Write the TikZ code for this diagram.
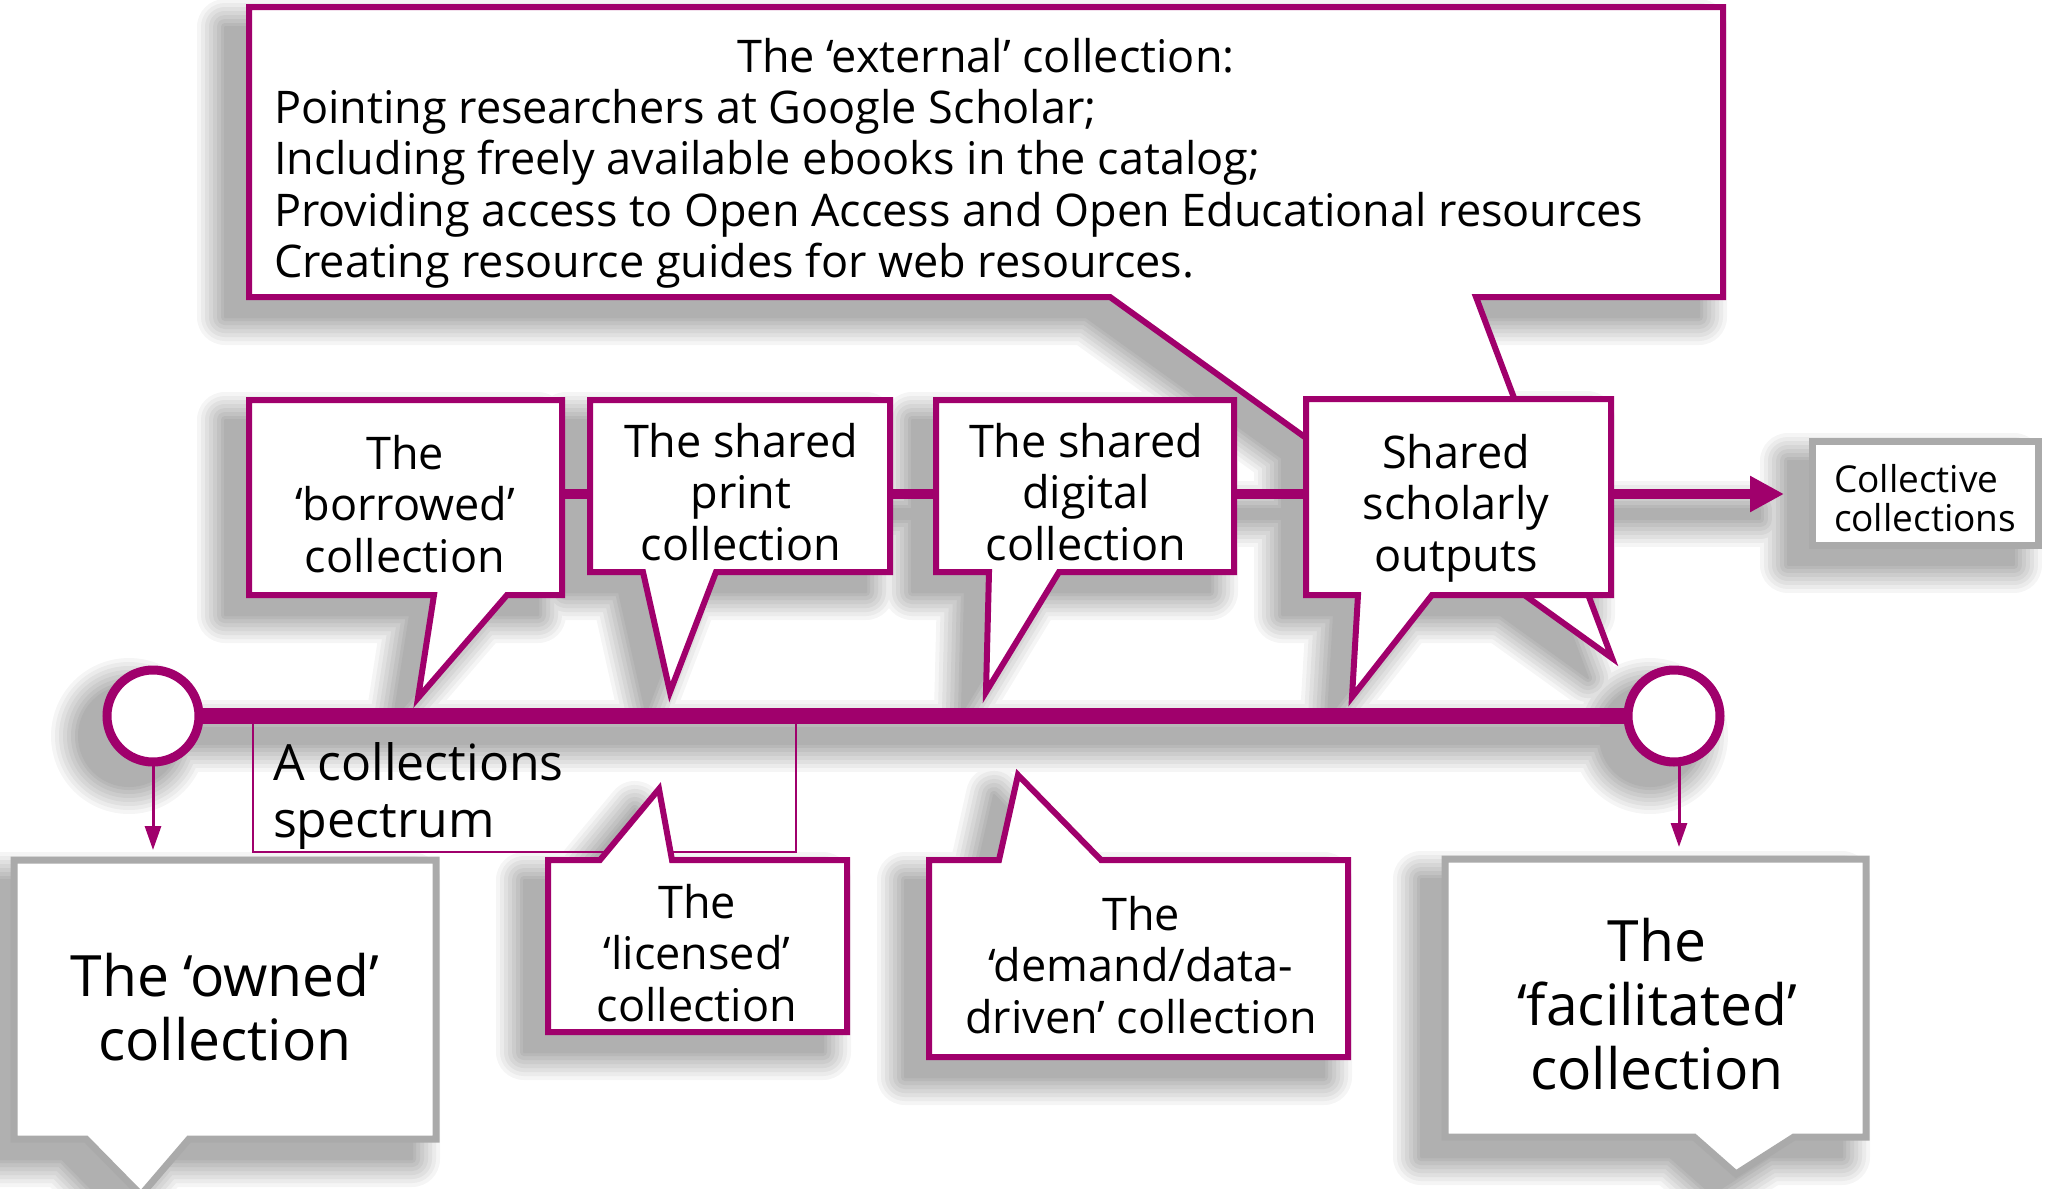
\documentclass[tikz,border=0pt]{standalone}
\usepackage{fontspec}
\setmainfont{Open Sans}
\usetikzlibrary{arrows.meta,fit}
\definecolor{mag}{RGB}{160,0,108}
\definecolor{bgray}{RGB}{170,170,170}
\pgfdeclarelayer{shadow}
\pgfdeclarelayer{back}
\pgfdeclarelayer{lines}
\pgfdeclarelayer{boxes}
\pgfsetlayers{shadow,back,lines,boxes,main}

\newcommand\myshadowshapes[1]{%
 \path[#1] (249,7) -- (1723,7) -- (1723,297) -- (1476,297) -- (1612,658) -- (1110,297) -- (249,297) -- cycle;
 \path[#1] (249,400) -- (562,400) -- (562,595) -- (507,595) -- (418,698) -- (434,595) -- (249,595) -- cycle;
 \path[#1] (590,400) -- (890,400) -- (890,572) -- (716,572) -- (670,692) -- (643,572) -- (590,572) -- cycle;
 \path[#1] (936,400) -- (1234,400) -- (1234,572) -- (1059,572) -- (986,692) -- (989,572) -- (936,572) -- cycle;
 \path[#1] (1306,399) -- (1611,399) -- (1611,595) -- (1432,595) -- (1352,697) -- (1358,595) -- (1306,595) -- cycle;
 \path[#1] (1812,441) rectangle (2038,545);
 \path[#1] (562,489) rectangle (1784,499);
 \path[#1] (153,708) rectangle (1674,724);
 \path[#1] (153,716) circle[radius=50];
 \path[#1] (1674,716) circle[radius=50];
 \path[#1] (14,860) -- (436,860) -- (436,1139) -- (189,1139) -- (141,1195) -- (86,1139) -- (14,1139) -- cycle;
 \path[#1] (548,860) -- (600,860) -- (659,789) -- (672,860) -- (847,860) -- (847,1032) -- (548,1032) -- cycle;
 \path[#1] (929,860) -- (999,860) -- (1018,775) -- (1101,860) -- (1348,860) -- (1348,1057) -- (929,1057) -- cycle;
 \path[#1] (1445,859) -- (1866,859) -- (1866,1137) -- (1794,1137) -- (1736,1174) -- (1694,1137) -- (1445,1137) -- cycle;
}

\begin{document}
\begin{tikzpicture}[x=0.5pt,y=-0.5pt,
  every node/.style={inner sep=0pt, outer sep=0pt},
  txt/.style={align=center, font=\fontsize{22.5}{25.75}\selectfont},
  bigtxt/.style={align=center, font=\fontsize{28.5}{32}\selectfont},
  spectxt/.style={align=left, font=\fontsize{25}{28.5}\selectfont},
  colltxt/.style={align=left, font=\fontsize{18.5}{19.5}\selectfont},
  callm/.style={draw=mag, line width=3pt, fill=white},
  callg/.style={draw=bgray, line width=3.5pt, fill=white},
  thinm/.style={draw=mag, line width=1pt},
  upline/.style={draw=mag, line width=5pt},
  mainline/.style={draw=mag, line width=8pt},
  darrow/.style={draw=mag, line width=1.5pt, -{Triangle[length=12pt,width=8pt]}},
  ring/.style={circle, draw=mag, line width=4.5pt, fill=white, minimum size=46pt}
]
\useasboundingbox (0,0) rectangle (2047,1189);

% ---------- shadows ----------
\begin{pgfonlayer}{shadow}
\begin{scope}[xshift=-12pt,yshift=-10pt,line join=round]
\foreach \w/\c in {28pt/4,24pt/8,20pt/12,16pt/16,12pt/20,8pt/24,4pt/28,1pt/31}{
  \myshadowshapes{fill=black!\c,draw=black!\c,line width=\w}
}
\end{scope}
\end{pgfonlayer}

% ---------- box nodes ----------
\node[fit={(249,7)(1723,297)}] (ext) {};
\node[fit={(249,400)(562,595)}] (bor) {};
\node[fit={(590,400)(890,572)}] (pri) {};
\node[fit={(936,400)(1234,572)}] (dig) {};
\node[fit={(1306,399)(1611,595)}] (sch) {};
\node[fit={(1812,441)(2038,545)}] (coll) {};
\node[fit={(253,720)(796,852)}] (spec) {};
\node[fit={(14,860)(436,1139)}] (own) {};
\node[fit={(548,860)(847,1032)}] (lic) {};
\node[fit={(929,860)(1348,1057)}] (dem) {};
\node[fit={(1445,859)(1866,1137)}] (fac) {};

\node[ring] (lc) at (153,716) {};
\node[ring] (rc) at (1674,716) {};
\coordinate (la) at (153,850);
\coordinate (ra) at (1679,847);
\coordinate (ly) at (0,494);

% ---------- texts ----------
\node[txt] (extt) at (986,56) {The ‘external’ collection:};
\node[txt, align=left, anchor=west] (extb) at (274,189)
  {Pointing researchers at Google Scholar;\\
   Including freely available ebooks in the catalog;\\
   Providing access to Open Access and Open Educational resources\\
   Creating resource guides for web resources.};
\node[txt] (bort) at (405,504) {The\\‘borrowed’\\collection};
\node[txt] (prit) at (741,492) {The shared\\print\\collection};
\node[txt] (digt) at (1086,492) {The shared\\digital\\collection};
\node[txt] (scht) at (1456,508) {Shared\\scholarly\\outputs};
\node[colltxt, anchor=west] (collt) at (1834,498) {Collective\\collections};
\node[spectxt, anchor=west] (spt) at (273,796) {A collections\\spectrum};
\node[bigtxt] (ownt) at (225,1007) {The ‘owned’\\collection};
\node[txt] (lict) at (697,953) {The\\‘licensed’\\collection};
\node[txt] (demt) at (1141,965) {The\\‘demand/data-\\driven’ collection};
\node[bigtxt] (fact) at (1657,1004) {The\\‘facilitated’\\collection};

% ---------- back ----------
\begin{pgfonlayer}{back}
\draw[callm] (ext.north west) -- (ext.north east) -- (ext.south east) -- (1476,297) -- (1612,658) -- (1110,297) -- (ext.south west) -- cycle;
\draw[thinm] (spec.north west) rectangle (spec.south east);
\end{pgfonlayer}

% ---------- connectors ----------
\begin{pgfonlayer}{lines}
\draw[upline, -{Triangle[length=17pt,width=17pt]}, shorten >=14pt] (bor.east |- ly) -- (coll.west |- ly);
\draw[mainline] (lc) -- (rc);
\draw[darrow] (lc) -- (la);
\draw[darrow] (rc.south -| ra) -- (ra);
\end{pgfonlayer}

% ---------- callouts ----------
\begin{pgfonlayer}{boxes}
\draw[callm] (bor.north west) -- (bor.north east) -- (bor.south east) -- (507,595) -- (418,698) -- (434,595) -- (bor.south west) -- cycle;
\draw[callm] (pri.north west) -- (pri.north east) -- (pri.south east) -- (716,572) -- (670,692) -- (643,572) -- (pri.south west) -- cycle;
\draw[callm] (dig.north west) -- (dig.north east) -- (dig.south east) -- (1059,572) -- (986,692) -- (989,572) -- (dig.south west) -- cycle;
\draw[callm] (sch.north west) -- (sch.north east) -- (sch.south east) -- (1432,595) -- (1352,697) -- (1358,595) -- (sch.south west) -- cycle;
\draw[callg] (coll.north west) rectangle (coll.south east);
\draw[callg] (own.north west) -- (own.north east) -- (own.south east) -- (189,1139) -- (141,1195) -- (86,1139) -- (own.south west) -- cycle;
\draw[callm] (lic.north west) -- (600,860) -- (659,789) -- (672,860) -- (lic.north east) -- (lic.south east) -- (lic.south west) -- cycle;
\draw[callm] (dem.north west) -- (999,860) -- (1018,775) -- (1101,860) -- (dem.north east) -- (dem.south east) -- (dem.south west) -- cycle;
\draw[callg] (fac.north west) -- (fac.north east) -- (fac.south east) -- (1794,1137) -- (1736,1174) -- (1694,1137) -- (fac.south west) -- cycle;
\end{pgfonlayer}
\end{tikzpicture}
\end{document}
